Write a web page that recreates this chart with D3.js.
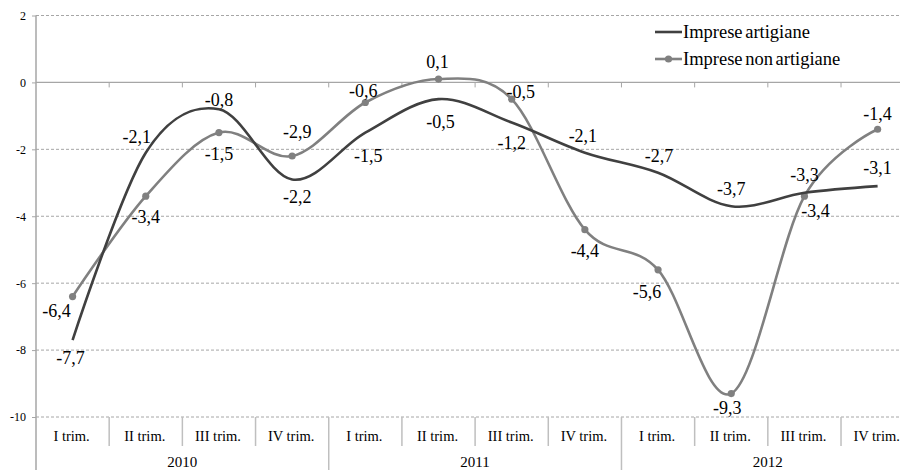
<!DOCTYPE html>
<html>
<head>
<meta charset="utf-8">
<script src="https://cdn.jsdelivr.net/npm/d3@7/dist/d3.min.js"></script>
<style>
  html, body { margin: 0; padding: 0; background: #fff; overflow: hidden; }
  svg { display: block; }
  svg text { font-family: "Liberation Serif", "Times New Roman", serif; }
</style>
</head>
<body>
<svg id="chart" width="900" height="470"></svg>
<script>
// Quarterly change (%) for artisan and non-artisan firms, 2010-2012
const years = ["2010", "2011", "2012"];
const quarters = ["I trim.", "II trim.", "III trim.", "IV trim."];
const artigiane = [-7.7, -2.1, -0.8, -2.9, -1.5, -0.5, -1.2, -2.1, -2.7, -3.7, -3.3, -3.1];
const nonArtigiane = [-6.4, -3.4, -1.5, -2.2, -0.6, 0.1, -0.5, -4.4, -5.6, -9.3, -3.4, -1.4];
const yTicks = [-10, -8, -6, -4, -2, 0, 2];
const seriesNames = ["Imprese artigiane", "Imprese non artigiane"];

// Label placement relative to each point (pixels)
const artLabelOffsets = [[-2, 18], [-9, -16], [0, -9], [5, -48], [3, 23], [2, 23], [0, 20], [-2, -17], [1, -17], [0, -18], [0, -18], [0, -18]];
const nonLabelOffsets = [[-16, 14], [0, 21], [0, 21], [5, 41], [-2, -12], [-1, -17], [9, -7], [0, 21], [-11, 22], [-4, 14], [11, 15], [0, -16]];

const SERIF = "Liberation Serif, Times New Roman, serif";

const keys = [];
years.forEach(yr => quarters.forEach(q => keys.push(yr + "|" + q)));

const svg = d3.select("#chart");
const plotLeft = 36, plotRight = 914.2, plotTop = 15.5, plotBottom = 417;

const x = d3.scaleBand().domain(keys).range([plotLeft, plotRight]).padding(0);
const y = d3.scaleLinear().domain([-10, 2]).range([plotBottom, plotTop]);
const cx = i => x(keys[i]) + x.bandwidth() / 2;

const itLocale = d3.formatLocale({ decimal: ",", thousands: ".", grouping: [3], currency: ["€", ""], minus: "-" });
const fmt = itLocale.format(".1f");

// Gridlines
svg.append("g")
  .selectAll("line")
  .data(yTicks.filter(t => t !== 0))
  .join("line")
  .attr("x1", plotLeft).attr("x2", 900)
  .attr("y1", d => y(d)).attr("y2", d => y(d))
  .attr("stroke", "#a6a6a6").attr("stroke-width", 1)
  .attr("stroke-dasharray", "3,2");

// Y axis
const yAxis = d3.axisLeft(y).tickValues(yTicks).tickSize(4).tickPadding(6).tickFormat(d => String(d));
const gy = svg.append("g").attr("transform", `translate(${plotLeft},0)`).call(yAxis)
  .attr("font-family", SERIF);
gy.select(".domain").remove();
gy.selectAll(".tick line").attr("stroke", "#a6a6a6");
gy.selectAll(".tick text").attr("font-size", 12).attr("fill", "#000");
svg.append("line")
  .attr("x1", plotLeft).attr("x2", plotLeft).attr("y1", plotTop).attr("y2", 470)
  .attr("stroke", "#a6a6a6").attr("stroke-width", 1.5);

// Zero line with ticks at category boundaries
svg.append("line")
  .attr("x1", plotLeft).attr("x2", 900).attr("y1", y(0)).attr("y2", y(0))
  .attr("stroke", "#a6a6a6").attr("stroke-width", 1.2);
svg.append("g").selectAll("line")
  .data(keys.slice(1))
  .join("line")
  .attr("x1", d => x(d)).attr("x2", d => x(d))
  .attr("y1", y(0)).attr("y2", y(0) + 5)
  .attr("stroke", "#a6a6a6").attr("stroke-width", 1);

// Category separators below the plot
svg.append("g").selectAll("line")
  .data(keys.slice(1))
  .join("line")
  .attr("x1", d => x(d)).attr("x2", d => x(d))
  .attr("y1", plotBottom).attr("y2", (d, i) => ((i + 1) % 4 === 0 ? 470 : 446))
  .attr("stroke", "#bfbfbf").attr("stroke-width", 1.5);

// Quarter labels
svg.append("g").selectAll("text")
  .data(keys)
  .join("text")
  .attr("x", d => x(d) + x.bandwidth() / 2 - 1)
  .attr("y", 441)
  .attr("text-anchor", "middle")
  .attr("font-family", SERIF)
  .attr("font-size", 14.5)
  .attr("fill", "#000")
  .text(d => d.split("|")[1]);

// Year labels
svg.append("g").selectAll("text")
  .data(years)
  .join("text")
  .attr("x", d => (x(d + "|" + quarters[0]) + x(d + "|" + quarters[3]) + x.bandwidth()) / 2)
  .attr("y", 467)
  .attr("text-anchor", "middle")
  .attr("font-family", SERIF)
  .attr("font-size", 15)
  .attr("fill", "#000")
  .text(d => d);

// Lines
const line = d3.line()
  .x((d, i) => cx(i))
  .y(d => y(d))
  .curve(d3.curveCardinal.tension(0));

svg.append("path").datum(nonArtigiane)
  .attr("d", line).attr("fill", "none")
  .attr("stroke", "#808080").attr("stroke-width", 2.6);
svg.append("g").selectAll("circle")
  .data(nonArtigiane)
  .join("circle")
  .attr("cx", (d, i) => cx(i)).attr("cy", d => y(d))
  .attr("r", 3.6).attr("fill", "#808080");

svg.append("path").datum(artigiane)
  .attr("d", line).attr("fill", "none")
  .attr("stroke", "#404040").attr("stroke-width", 2.6);

// Data labels
function labels(data, offsets) {
  svg.append("g").selectAll("text")
    .data(data)
    .join("text")
    .attr("x", (d, i) => cx(i) + offsets[i][0])
    .attr("y", (d, i) => y(d) + offsets[i][1])
    .attr("dy", "0.35em")
    .attr("text-anchor", "middle")
    .attr("font-family", SERIF)
    .attr("font-size", 18)
    .attr("fill", "#000")
    .text(d => fmt(d));
}
labels(artigiane, artLabelOffsets);
labels(nonArtigiane, nonLabelOffsets);

// Legend
const legend = svg.append("g").attr("transform", "translate(655,32)");
legend.append("line").attr("x1", 0).attr("x2", 27).attr("y1", 0).attr("y2", 0)
  .attr("stroke", "#404040").attr("stroke-width", 2.6);
legend.append("line").attr("x1", 0).attr("x2", 27).attr("y1", 27).attr("y2", 27)
  .attr("stroke", "#808080").attr("stroke-width", 2.6);
legend.append("circle").attr("cx", 13.5).attr("cy", 27).attr("r", 3.6).attr("fill", "#808080");
legend.selectAll("text.leg")
  .data(seriesNames)
  .join("text")
  .attr("class", "leg")
  .attr("x", 28)
  .attr("y", (d, i) => i * 27)
  .attr("dy", "0.35em")
  .attr("font-family", SERIF)
  .attr("font-size", 18.5)
  .attr("word-spacing", -2)
  .attr("fill", "#000")
  .text(d => d);
</script>
</body>
</html>
